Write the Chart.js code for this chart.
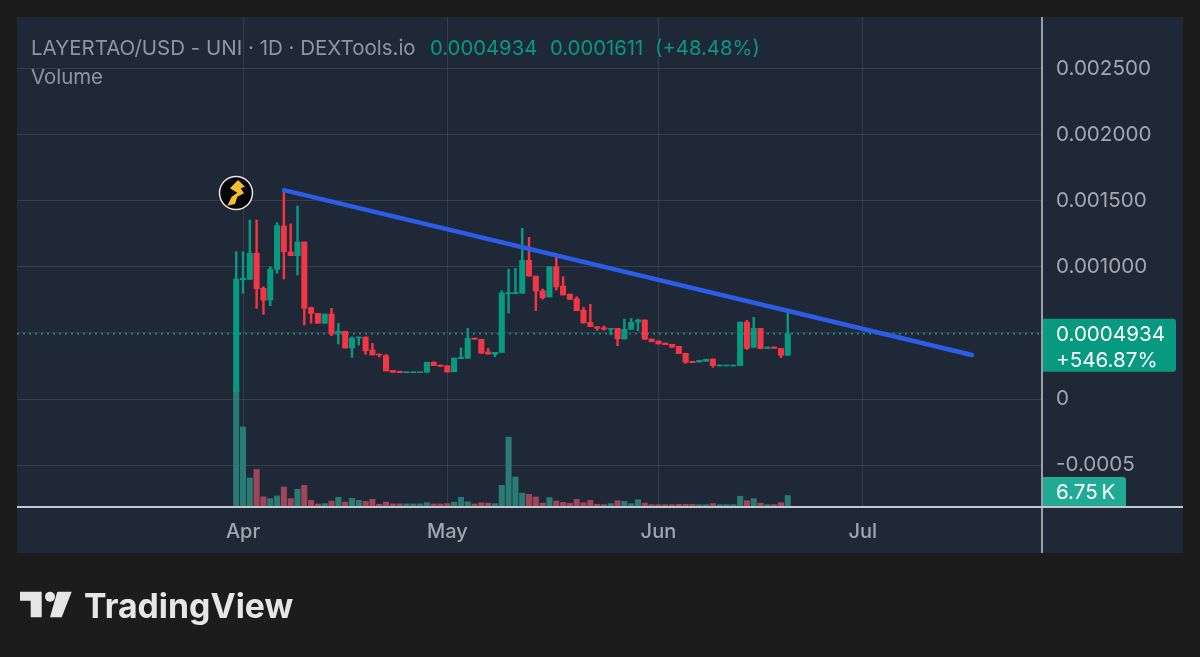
<!DOCTYPE html>
<html>
<head>
<meta charset="utf-8">
<title>LAYERTAO/USD</title>
<script src="https://cdn.jsdelivr.net/npm/chart.js@4/dist/chart.umd.min.js"></script>
<style>
	html, body { margin: 0; padding: 0; background: #1c1c1c; }
	canvas { display: block; }
</style>
</head>
<body>
<canvas id="chart" width="1200" height="657"></canvas>
<script>
// days are counted from Apr 1, the first candle is Mar 31
let firstDay = -1;

let opens = [0.000053,0.000902,0.000905,0.001102,0.000837,0.000749,0.000981,0.001309,0.001112,0.001084,0.001188,0.000691,0.000648,0.000573,0.000643,0.000497,0.000512,0.000386,0.000461,0.000469,0.000371,0.000340,0.000328,0.000217,0.000210,0.000199,0.000199,0.000199,0.000202,0.000278,0.000257,0.000252,0.000206,0.000305,0.000308,0.000461,0.000452,0.000356,0.000338,0.000352,0.000796,0.000796,0.000800,0.001049,0.000930,0.000819,0.000772,0.001001,0.000855,0.000792,0.000759,0.000673,0.000580,0.000547,0.000539,0.000527,0.000535,0.000454,0.000527,0.000582,0.000598,0.000454,0.000439,0.000424,0.000414,0.000399,0.000346,0.000285,0.000280,0.000285,0.000303,0.000250,0.000250,0.000250,0.000252,0.000582,0.000391,0.000535,0.000383,0.000393,0.000383,0.000331];
let closes = [0.000908,0.000913,0.001102,0.000834,0.000747,0.000983,0.001311,0.001114,0.001084,0.001188,0.000686,0.000648,0.000573,0.000643,0.000492,0.000512,0.000386,0.000461,0.000469,0.000365,0.000333,0.000333,0.000212,0.000202,0.000199,0.000206,0.000206,0.000206,0.000278,0.000252,0.000247,0.000204,0.000310,0.000315,0.000459,0.000452,0.000346,0.000340,0.000353,0.000802,0.000807,0.000807,0.001049,0.000930,0.000817,0.000766,0.001001,0.000849,0.000787,0.000754,0.000668,0.000575,0.000547,0.000535,0.000529,0.000535,0.000456,0.000527,0.000580,0.000598,0.000452,0.000433,0.000416,0.000411,0.000393,0.000343,0.000278,0.000275,0.000293,0.000300,0.000252,0.000257,0.000257,0.000257,0.000582,0.000383,0.000535,0.000380,0.000393,0.000383,0.000331,0.000493];
let highs = [0.001114,0.001114,0.001354,0.001354,0.000849,0.001001,0.001334,0.001581,0.001324,0.001460,0.001188,0.000696,0.000648,0.000643,0.000686,0.000573,0.000514,0.000471,0.000469,0.000469,0.000421,0.000340,0.000338,0.000217,0.000210,0.000206,0.000206,0.000206,0.000278,0.000282,0.000257,0.000252,0.000310,0.000386,0.000535,0.000461,0.000452,0.000383,0.000353,0.000819,0.000983,0.000989,0.001291,0.001223,0.000930,0.000832,0.001001,0.001082,0.000925,0.000796,0.000774,0.000694,0.000716,0.000547,0.000552,0.000535,0.000535,0.000605,0.000610,0.000605,0.000598,0.000454,0.000439,0.000424,0.000414,0.000399,0.000346,0.000285,0.000293,0.000300,0.000303,0.000257,0.000257,0.000257,0.000582,0.000595,0.000618,0.000535,0.000393,0.000393,0.000383,0.000648];
let lows = [0.000053,0.000800,0.000905,0.000686,0.000641,0.000706,0.000951,0.000908,0.001084,0.000938,0.000560,0.000573,0.000573,0.000573,0.000479,0.000416,0.000386,0.000315,0.000408,0.000338,0.000333,0.000318,0.000212,0.000202,0.000199,0.000199,0.000199,0.000199,0.000202,0.000252,0.000247,0.000204,0.000206,0.000305,0.000308,0.000452,0.000346,0.000340,0.000320,0.000352,0.000650,0.000796,0.000800,0.000930,0.000668,0.000756,0.000772,0.000824,0.000787,0.000751,0.000668,0.000575,0.000547,0.000520,0.000520,0.000486,0.000403,0.000454,0.000527,0.000517,0.000452,0.000433,0.000416,0.000411,0.000386,0.000343,0.000270,0.000275,0.000280,0.000285,0.000240,0.000250,0.000250,0.000250,0.000252,0.000373,0.000391,0.000380,0.000383,0.000383,0.000312,0.000331];
// volume in thousands
let volumes = [70,47,17,22,6,4.9,6.5,11.7,4.9,10.4,12.7,3.9,1.8,2,3.5,5.7,2.9,5.1,3.9,3.3,4.5,1.6,2.9,1.8,1.8,1.8,1.8,1.8,2.5,1.8,1.8,2,2.9,5.7,3.1,1.8,2.5,2.3,2,12.7,41,17.6,8.2,7.4,5.9,2.3,5.5,3.5,2.7,2.2,4.5,2.5,3.9,1.6,1.4,2,3.7,3.3,2,4.3,2.3,1.4,1.4,1.4,1.4,1.6,1.6,1.6,1.4,1.4,2,1.4,1.4,1.4,6.3,3.7,4.9,2.3,1.4,1.4,2.5,6.75];

let monthDays = [0, 30, 61, 91];
let monthLabels = ["Apr", "May", "Jun", "Jul"];
let priceTicks = [-0.0005, 0, 0.0005, 0.001, 0.0015, 0.002, 0.0025];
let priceLabels = ["-0.0005", "0", "", "0.001000", "0.001500", "0.002000", "0.002500"];

let lastPrice = 0.0004934;
let trendDays = [6.02, 107.05];
let trendPrices = [0.00158, 0.000333];

let GREEN = "#089981";
let RED = "#f23645";
let VOL_GREEN = "#2a7b74";
let VOL_RED = "#a0455a";
let FONT = "Inter";

let xMin = -33.19;
let xMax = 117.33;
let yMin = -0.000817;
let yMax = 0.00289;

function candleColors(up, down) {
	let array = new Array();
	for (let i = 0; i < opens.length; i++) {
		array.push(closes[i] >= opens[i] ? up : down);
	}
	return array;
}

function buildPoints(getY) {
	let array = new Array();
	for (let i = 0; i < opens.length; i++) {
		array.push({ x: firstDay + i, y: getY(i) });
	}
	return array;
}

function drawText(ctx, text, x, y, font, color) {
	ctx.font = font;
	ctx.fillStyle = color;
	ctx.textAlign = "left";
	ctx.textBaseline = "alphabetic";
	ctx.fillText(text, x, y);
}

function drawShape(ctx, points, color) {
	ctx.beginPath();
	ctx.moveTo(points[0][0], points[0][1]);
	for (let i = 1; i < points.length; i++) {
		ctx.lineTo(points[i][0], points[i][1]);
	}
	ctx.closePath();
	ctx.fillStyle = color;
	ctx.fill();
}

let backgroundPlugin = {
	id: "background",
	beforeDraw: function (chart) {
		let ctx = chart.ctx;
		ctx.save();
		ctx.fillStyle = "#1c1c1c";
		ctx.fillRect(0, 0, 1200, 657);
		ctx.fillStyle = "#1f2836";
		ctx.fillRect(17, 17, 1166, 536);
		ctx.restore();
	}
};

let overlayPlugin = {
	id: "overlay",
	afterDraw: function (chart) {
		let ctx = chart.ctx;
		let area = chart.chartArea;
		ctx.save();

		// axis lines
		ctx.strokeStyle = "#c4c7cc";
		ctx.lineWidth = 2;
		ctx.beginPath();
		ctx.moveTo(17, area.bottom);
		ctx.lineTo(1183, area.bottom);
		ctx.stroke();
		ctx.lineWidth = 1.5;
		ctx.beginPath();
		ctx.moveTo(area.right, 17);
		ctx.lineTo(area.right, 553);
		ctx.stroke();

		// header
		drawText(ctx, "LAYERTAO/USD - UNI · 1D · DEXTools.io", 31, 55, "20.5px " + FONT, "#8f96a0");
		drawText(ctx, "0.0004934", 430, 55, "20.3px " + FONT, GREEN);
		drawText(ctx, "0.0001611", 550, 55, "20.3px " + FONT, GREEN);
		drawText(ctx, "(+48.48%)", 655, 55, "20.3px " + FONT, GREEN);
		drawText(ctx, "Volume", 31, 84, "20.4px " + FONT, "#8f96a0");

		// last price badge
		let priceY = chart.scales.y.getPixelForValue(lastPrice);
		ctx.fillStyle = GREEN;
		ctx.beginPath();
		ctx.roundRect(area.right + 1, priceY - 15, 133, 53, [0, 3, 3, 0]);
		ctx.fill();
		drawText(ctx, "0.0004934", 1056, priceY + 7, "20.6px " + FONT, "#ffffff");
		drawText(ctx, "+546.87%", 1056, priceY + 33, "20.6px " + FONT, "#ffffff");

		// volume badge
		ctx.fillStyle = "#22ab94";
		ctx.beginPath();
		ctx.roundRect(area.right + 1, 477, 83, 29, [0, 3, 0, 0]);
		ctx.fill();
		drawText(ctx, "6.75\u2009K", 1056, 499, "20.6px " + FONT, "#ffffff");

		// event marker
		ctx.beginPath();
		ctx.arc(236, 193, 16.5, 0, Math.PI * 2);
		ctx.fillStyle = "#050505";
		ctx.fill();
		ctx.strokeStyle = "#e4e4e4";
		ctx.lineWidth = 1.5;
		ctx.stroke();
		drawShape(ctx, [[238, 180], [245, 186.7], [240.7, 188.3], [244, 193.3], [237.3, 196.7], [235, 204], [227.3, 205.7], [231.7, 196.7], [237.3, 192.7], [230, 188.3]], "#f5bd2e");

		// logo
		drawShape(ctx, [[20, 591.7], [41.7, 591.7], [41.7, 617.3], [30.7, 617.3], [30.7, 600.7], [20, 600.7]], "#e6e6e6");
		drawShape(ctx, [[57.3, 591.7], [71.7, 591.7], [61.7, 617.3], [50, 617.3]], "#e6e6e6");
		ctx.beginPath();
		ctx.arc(50, 596.7, 5, 0, Math.PI * 2);
		ctx.fillStyle = "#e6e6e6";
		ctx.fill();
		drawText(ctx, "TradingView", 84, 618, "700 33.8px " + FONT, "#e6e6e6");

		ctx.restore();
	}
};

let config = {
	data: {
		datasets: [
			{
				type: "line",
				order: 0,
				data: [{ x: trendDays[0], y: trendPrices[0] }, { x: trendDays[1], y: trendPrices[1] }],
				borderColor: "#2b5ee8",
				borderWidth: 4.5,
				borderCapStyle: "round",
				pointRadius: 0
			},
			{
				type: "bar",
				order: 1,
				data: buildPoints(function (i) { return [opens[i], closes[i]]; }),
				backgroundColor: candleColors(GREEN, RED),
				barThickness: 5.4,
				grouped: false
			},
			{
				type: "bar",
				order: 2,
				data: buildPoints(function (i) { return [lows[i], highs[i]]; }),
				backgroundColor: candleColors(GREEN, RED),
				barThickness: 1.8,
				grouped: false
			},
			{
				type: "line",
				order: 3,
				data: [{ x: xMin, y: lastPrice }, { x: xMax, y: lastPrice }],
				borderColor: GREEN,
				borderWidth: 1.5,
				borderDash: [2, 4],
				pointRadius: 0
			},
			{
				type: "bar",
				order: 4,
				yAxisID: "yVol",
				data: buildPoints(function (i) { return volumes[i]; }),
				backgroundColor: candleColors(VOL_GREEN, VOL_RED),
				barThickness: 5.4,
				grouped: false
			}
		]
	},
	options: {
		responsive: false,
		animation: false,
		layout: { padding: { left: 17, top: 17, right: 17, bottom: 104 } },
		plugins: { legend: { display: false }, tooltip: { enabled: false } },
		scales: {
			x: {
				type: "linear",
				offset: false,
				min: xMin,
				max: xMax,
				afterBuildTicks: function (axis) {
					axis.ticks = monthDays.map(function (d) { return { value: d }; });
				},
				afterFit: function (axis) {
					axis.height = 46;
					axis.paddingLeft = 0;
					axis.paddingRight = 0;
				},
				ticks: {
					autoSkip: false,
					maxRotation: 0,
					padding: 13,
					color: "#a3a7ad",
					font: { family: FONT, size: 20, weight: "500" },
					callback: function (value) { return monthLabels[monthDays.indexOf(value)]; }
				},
				grid: { color: "rgba(255,255,255,0.1)", tickLength: 0, offset: false },
				border: { display: false }
			},
			y: {
				position: "right",
				min: yMin,
				max: yMax,
				afterBuildTicks: function (axis) {
					axis.ticks = priceTicks.map(function (v) { return { value: v }; });
				},
				afterFit: function (axis) {
					axis.width = 141;
					axis.paddingTop = 0;
					axis.paddingBottom = 0;
				},
				ticks: {
					autoSkip: false,
					padding: 14,
					color: "#a3a7ad",
					font: { family: FONT, size: 20.6 },
					callback: function (value) { return priceLabels[priceTicks.indexOf(value)]; }
				},
				grid: { color: "rgba(255,255,255,0.1)", tickLength: 0 },
				border: { display: false }
			},
			yVol: {
				display: false,
				min: 0,
				max: 287.6
			}
		}
	},
	plugins: [backgroundPlugin, overlayPlugin]
};

let chart = new Chart(document.getElementById("chart").getContext("2d"), config);
</script>
</body>
</html>
